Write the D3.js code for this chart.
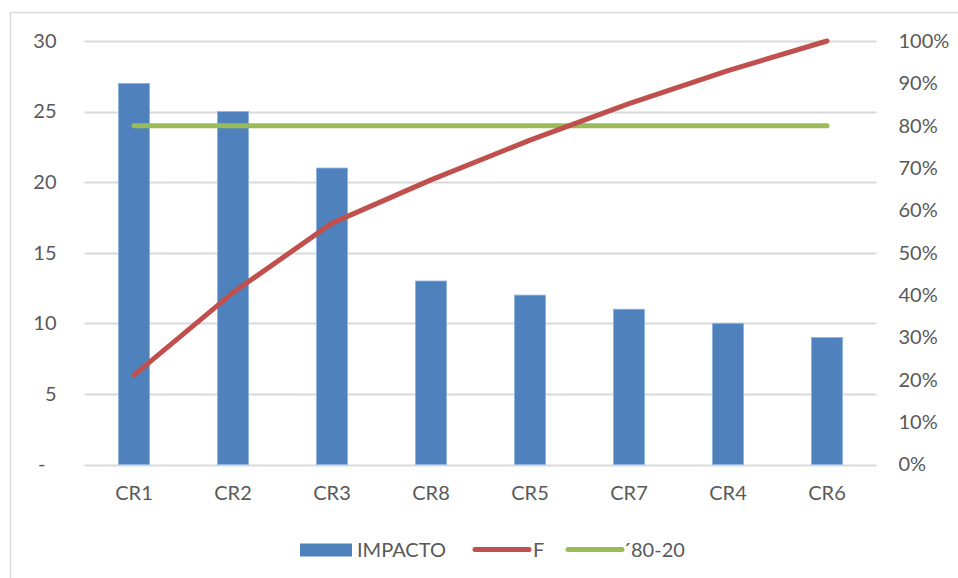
<!DOCTYPE html>
<html>
<head>
<meta charset="utf-8">
<script src="https://cdn.jsdelivr.net/npm/d3@7"></script>
<style>
  html, body { margin: 0; padding: 0; background: #fff; }
  svg { display: block; }
  text { font-family: Lato, "Open Sans", "Noto Sans", sans-serif; fill: #595959; }
</style>
</head>
<body>
<svg id="chart" width="958" height="578"></svg>
<script>
// Pareto data: impact per criterion, cumulative share, and the 80% reference
const categories = ["CR1", "CR2", "CR3", "CR8", "CR5", "CR7", "CR4", "CR6"];
const impacto = [27, 25, 21, 13, 12, 11, 10, 9];
const acumulado = [21.1, 40.6, 57.0, 67.2, 76.6, 85.2, 93.0, 100];
const referencia = [80, 80, 80, 80, 80, 80, 80, 80];
const leftTicks = [0, 5, 10, 15, 20, 25, 30];
const rightTicks = [0, 10, 20, 30, 40, 50, 60, 70, 80, 90, 100];
const legendLabels = ["IMPACTO", "F", "\u00b480-20"];

const colors = { bar: "#4f81bd", barEdge: "#8db3e2", line: "#c0504d", ref: "#9bbb59", grid: "#d9d9d9" };
const fontSize = "20px";

const svg = d3.select("#chart");

// chart frame
svg.append("rect")
  .attr("x", 10.5).attr("y", 12.5)
  .attr("width", 1000).attr("height", 1000)
  .attr("fill", "none").attr("stroke", colors.grid).attr("stroke-width", 1.5);

const plot = { left: 84.5, right: 876.5, top: 41, bottom: 464.5 };

const x = d3.scaleBand().domain(categories).range([plot.left, plot.right]).paddingInner(0.685).paddingOuter(0.3425);
const yL = d3.scaleLinear().domain([0, 30]).range([plot.bottom, plot.top]);
const yR = d3.scaleLinear().domain([0, 100]).range([plot.bottom, plot.top]);
const cx = d => x(d) + x.bandwidth() / 2;

// horizontal gridlines on the primary axis
svg.append("g").selectAll("line").data(leftTicks).join("line")
  .attr("x1", plot.left).attr("x2", plot.right)
  .attr("y1", d => Math.round(yL(d)) + 0.5).attr("y2", d => Math.round(yL(d)) + 0.5)
  .attr("stroke", colors.grid).attr("stroke-width", 2);

// left axis labels
const leftAxis = svg.append("g")
  .attr("transform", `translate(${plot.left - 28},0)`)
  .call(d3.axisLeft(yL).tickValues(leftTicks).tickSize(0).tickPadding(0)
    .tickFormat(d => d === 0 ? "-" : d3.format("d")(d)));
leftAxis.select(".domain").remove();
leftAxis.selectAll("text").style("font-size", fontSize).attr("fill", "#595959")
  .attr("dx", d => d === 0 ? -11 : 0);

// right axis labels
const rightAxis = svg.append("g")
  .attr("transform", `translate(${plot.right + 22},0)`)
  .call(d3.axisRight(yR).tickValues(rightTicks).tickSize(0).tickPadding(0)
    .tickFormat(d => d + "%"));
rightAxis.select(".domain").remove();
rightAxis.selectAll("text").style("font-size", fontSize).attr("fill", "#595959");

// category labels
const bottomAxis = svg.append("g")
  .attr("transform", `translate(0,${plot.bottom})`)
  .call(d3.axisBottom(x).tickSize(0).tickPadding(21));
bottomAxis.select(".domain").remove();
bottomAxis.selectAll("text").style("font-size", fontSize).attr("fill", "#595959");

// bars
svg.append("g").selectAll("rect").data(impacto).join("rect")
  .attr("x", (d, i) => x(categories[i]))
  .attr("y", d => yL(d))
  .attr("width", x.bandwidth())
  .attr("height", d => yL(0) - yL(d))
  .attr("fill", colors.bar)
  .attr("stroke", colors.barEdge).attr("stroke-width", 0.8);

// 80-20 reference line
svg.append("path")
  .datum(referencia)
  .attr("d", d3.line().x((d, i) => cx(categories[i])).y(d => yR(d)))
  .attr("fill", "none").attr("stroke", colors.ref).attr("stroke-width", 5).attr("stroke-linecap", "round");

// cumulative share line
svg.append("path")
  .datum(acumulado)
  .attr("d", d3.line().x((d, i) => cx(categories[i])).y(d => yR(d)))
  .attr("fill", "none").attr("stroke", colors.line).attr("stroke-width", 5)
  .attr("stroke-linecap", "round").attr("stroke-linejoin", "round");

// legend
const legend = svg.append("g").attr("transform", "translate(0,550)");
legend.append("rect").attr("x", 300).attr("y", -6.5).attr("width", 52).attr("height", 13).attr("fill", colors.bar);
legend.append("line").attr("x1", 475).attr("x2", 529).attr("y1", -0.5).attr("y2", -0.5)
  .attr("stroke", colors.line).attr("stroke-width", 5).attr("stroke-linecap", "round");
legend.append("line").attr("x1", 568).attr("x2", 622).attr("y1", -0.5).attr("y2", -0.5)
  .attr("stroke", colors.ref).attr("stroke-width", 5).attr("stroke-linecap", "round");
const lx = [357, 533, 623];
legend.selectAll("text.lbl").data(legendLabels).join("text")
  .attr("class", "lbl")
  .attr("x", (d, i) => lx[i]).attr("y", 0).attr("dy", "0.35em")
  .style("font-size", fontSize)
  .text(d => d);
</script>
</body>
</html>
